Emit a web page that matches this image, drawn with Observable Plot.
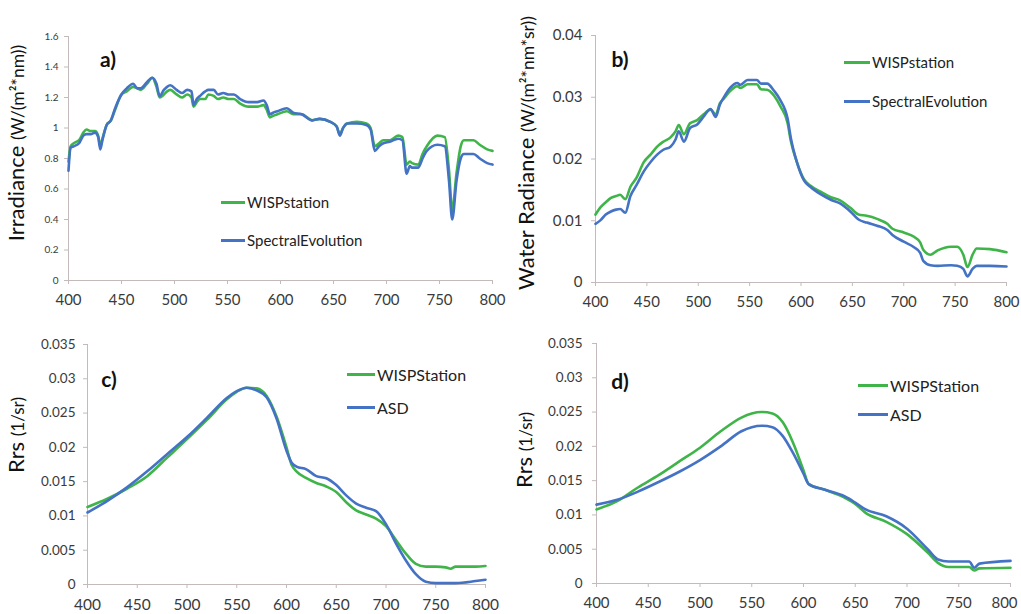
<!DOCTYPE html>
<html><head><meta charset="utf-8">
<script src="https://cdn.jsdelivr.net/npm/d3@7"></script>
<script src="https://cdn.jsdelivr.net/npm/@observablehq/plot@0.6"></script>
<style>
body{margin:0;background:#fff;font-family:Lato,"Open Sans",sans-serif;}
#wrap{position:relative;width:1021px;height:614px;overflow:hidden;background:#fff;}
.panel{position:absolute;}
.panel svg{overflow:visible;}
.leg{position:absolute;display:flex;align-items:center;color:#222;white-space:nowrap;}
.leg span.sw{display:inline-block;height:3px;margin-right:2px;}
</style></head><body><div id="wrap"></div>
<script>
// ---------- data ----------
const xTicks = [400, 450, 500, 550, 600, 650, 700, 750, 800];

// a) Irradiance
const aWl = [400,402,405,410,414,417,421,425,428,430,432,436,440,444,450,455,461,465,468,474,479,483,486,490,493,496,502,507,512,516,518,521,524,529,532,537,541,546,551,556,562,570,578,584,587,590,593,597,606,612,620,630,637,647,653,656,659,663,672,681,685,689,693,697,703,711,715,719,722,724,730,734,738,748,755,759,762,766,770,773,782,788,795,800];
const aWisp = [0.78,0.88,0.9,0.92,0.97,0.99,0.98,0.98,0.95,0.88,0.93,1.02,1.05,1.12,1.22,1.24,1.27,1.26,1.25,1.29,1.33,1.27,1.2,1.22,1.24,1.25,1.22,1.2,1.22,1.2,1.14,1.17,1.19,1.19,1.22,1.21,1.19,1.2,1.19,1.19,1.16,1.14,1.14,1.15,1.12,1.07,1.08,1.09,1.11,1.09,1.09,1.05,1.06,1.04,1.01,0.96,1.0,1.03,1.04,1.03,1.0,0.88,0.9,0.92,0.92,0.95,0.94,0.76,0.78,0.77,0.76,0.83,0.88,0.95,0.94,0.72,0.46,0.7,0.88,0.92,0.92,0.89,0.86,0.85];
const aSpec = [0.72,0.87,0.88,0.9,0.95,0.96,0.96,0.97,0.94,0.86,0.92,1.02,1.05,1.13,1.22,1.26,1.29,1.26,1.26,1.3,1.33,1.29,1.21,1.25,1.27,1.28,1.25,1.23,1.25,1.24,1.15,1.19,1.21,1.24,1.25,1.25,1.22,1.23,1.22,1.22,1.19,1.17,1.17,1.18,1.15,1.09,1.1,1.11,1.13,1.1,1.09,1.05,1.06,1.04,1.01,0.95,1.0,1.03,1.03,1.02,0.99,0.85,0.88,0.9,0.91,0.93,0.92,0.7,0.75,0.74,0.74,0.8,0.85,0.89,0.88,0.65,0.4,0.65,0.8,0.83,0.83,0.8,0.77,0.76];
const aTicks = [0,0.2,0.4,0.6,0.8,1,1.2,1.4,1.6];

// b) Water radiance
const bWl = [400,405,410,415,420,424,429,434,440,447,454,460,466,473,478,481,486,492,499,505,512,517,521,525,531,538,541,548,557,561,567,574,580,587,590,596,603,609,619,629,638,648,656,664,674,684,689,700,710,716,719,726,733,746,752,758,762,767,771,784,800];
const bWisp = [0.011,0.0122,0.013,0.0137,0.014,0.0142,0.0135,0.0155,0.017,0.0195,0.0208,0.022,0.0228,0.0235,0.0245,0.0255,0.024,0.0258,0.0263,0.0272,0.028,0.0272,0.029,0.0298,0.031,0.0318,0.0315,0.0321,0.0321,0.0313,0.0312,0.0302,0.0285,0.0258,0.023,0.0195,0.0167,0.0157,0.0147,0.0138,0.0133,0.0121,0.011,0.0108,0.0103,0.0095,0.0087,0.0081,0.0074,0.0065,0.0053,0.0045,0.0052,0.0058,0.0058,0.0045,0.0025,0.0045,0.0055,0.0054,0.0049];
const bSpec = [0.0095,0.0101,0.011,0.0115,0.0118,0.0119,0.0113,0.014,0.0158,0.018,0.0196,0.0207,0.0215,0.022,0.0232,0.0245,0.0228,0.025,0.0256,0.0268,0.0281,0.0268,0.0288,0.03,0.0315,0.0323,0.032,0.0328,0.0328,0.0322,0.0322,0.031,0.0295,0.0265,0.0235,0.0195,0.0165,0.0155,0.0143,0.0134,0.0128,0.0115,0.0102,0.0097,0.0092,0.0085,0.0077,0.0066,0.0057,0.0048,0.0035,0.0028,0.0027,0.0028,0.0027,0.0022,0.001,0.0022,0.0027,0.0027,0.0026];
const bTicks = [0,0.01,0.02,0.03,0.04];

// c) Rrs
const cWl = [400,420,440,460,480,500,520,540,550,560,570,580,590,600,605,610,620,630,640,650,660,670,680,690,700,710,720,730,740,750,760,765,770,790,800];
const cWisp = [0.0113,0.0125,0.014,0.0158,0.0185,0.0212,0.024,0.027,0.0281,0.0287,0.0286,0.0275,0.0245,0.02,0.0175,0.0165,0.0155,0.0148,0.0143,0.0135,0.012,0.0108,0.0102,0.0096,0.0085,0.0065,0.0045,0.003,0.0026,0.0026,0.0025,0.0023,0.0026,0.0026,0.0027];
const cAsd = [0.0105,0.0122,0.0142,0.0165,0.019,0.0215,0.0243,0.0272,0.0282,0.0287,0.0283,0.0273,0.0242,0.0195,0.0178,0.0172,0.0168,0.0158,0.0155,0.0145,0.013,0.0118,0.0112,0.0107,0.0088,0.006,0.0035,0.0015,0.0004,0.0002,0.0002,0.0002,0.0002,0.0005,0.0007];

// d) Rrs
const dWl = [400,420,440,460,480,500,520,540,550,560,570,580,590,600,605,620,640,650,660,680,700,720,730,740,760,765,770,800];
const dWisp = [0.0108,0.012,0.014,0.0158,0.0178,0.0198,0.0222,0.0242,0.0248,0.025,0.0248,0.0235,0.0205,0.0165,0.0145,0.0137,0.0125,0.0116,0.0103,0.009,0.0072,0.0045,0.003,0.0024,0.0024,0.0019,0.0022,0.0023];
const dAsd = [0.0115,0.0122,0.0134,0.0148,0.0163,0.018,0.02,0.0222,0.0228,0.023,0.0228,0.0215,0.019,0.016,0.0145,0.0137,0.0127,0.0118,0.0108,0.0098,0.008,0.005,0.0035,0.0032,0.0032,0.0023,0.0029,0.0033];
const rrsTicks = [0,0.005,0.01,0.015,0.02,0.025,0.03,0.035];

// ---------- drawing ----------
const GREEN = "#3fb449", BLUE = "#4472c4", AXIS = "#c4baba", TXT = "#3a3a3a";
const FONT = "Lato, 'Open Sans', sans-serif";
const fmt = d => String(+d.toFixed(4));
const wrap = document.getElementById("wrap");

function panel(p) {
  const data = [];
  p.wl.forEach((w, i) => data.push({wl: w, v: p.g[i], s: p.names[0]}));
  p.wl.forEach((w, i) => data.push({wl: w, v: p.b[i], s: p.names[1]}));
  const last = xTicks[xTicks.length - 1];
  const chart = Plot.plot({
    width: p.w, height: p.h,
    marginLeft: p.ml, marginRight: p.mr, marginTop: p.mt, marginBottom: p.mb,
    x: {domain: [400, 800]},
    y: {domain: [0, p.ymax]},
    color: {domain: p.names, range: [GREEN, BLUE]},
    style: {fontFamily: FONT, background: "transparent", overflow: "visible"},
    marks: [
      Plot.ruleY([0], {stroke: AXIS}),
      Plot.ruleX([400], {stroke: AXIS}),
      Plot.axisX({ticks: xTicks, tickSize: 4, tickPadding: p.xpad, fontSize: p.xfs, stroke: AXIS, fill: TXT, label: null,
        tickFormat: d => (p.lastDx && d === last) ? "" : String(d)}),
      p.lastDx ? Plot.axisX({ticks: [last], tickSize: 0, tickPadding: p.xpad + 4, dx: p.lastDx, fontSize: p.xfs, fill: TXT, label: null, tickFormat: d => String(d)}) : null,
      Plot.axisY({ticks: p.yTicks, tickSize: 4, tickPadding: p.ypad, fontSize: p.yfs, stroke: AXIS, fill: TXT, label: null, tickFormat: fmt}),
      Plot.line(data, {x: "wl", y: "v", z: "s", stroke: "s", strokeWidth: 2.6, curve: "monotone-x"})
    ]
  });
  const div = document.createElement("div");
  div.className = "panel";
  div.style.left = p.left + "px"; div.style.top = p.top + "px";
  div.style.width = p.w + "px"; div.style.height = p.h + "px";
  div.appendChild(chart);
  wrap.appendChild(div);

  const svg = d3.select(chart);
  // y-axis title
  const t = svg.append("text")
    .attr("transform", `translate(${p.tx},${p.ty}) rotate(-90)`)
    .attr("text-anchor", "middle").attr("dy", "0.35em")
    .attr("fill", "#111").style("font-family", FONT);
  t.append("tspan").attr("font-size", p.tfs).text(p.title[0]);
  t.append("tspan").attr("font-size", p.ufs).text(p.title[1]);
  // panel letter
  svg.append("text").attr("x", p.lx).attr("y", p.ly).attr("dy", "0.35em")
    .attr("font-size", 21).attr("font-weight", "bold").attr("fill", "#111")
    .style("font-family", FONT).text(p.letter);

  // legend
  p.names.forEach((n, i) => {
    const l = document.createElement("div");
    l.className = "leg";
    l.style.left = p.legX + "px";
    l.style.top = (p.legY[i] - 10) + "px";
    l.style.height = "20px";
    l.style.fontSize = p.legFs + "px";
    l.style.fontFamily = FONT;
    const sw = document.createElement("span");
    sw.className = "sw"; sw.style.width = p.legW + "px";
    sw.style.background = i === 0 ? GREEN : BLUE;
    l.appendChild(sw);
    l.appendChild(document.createTextNode(n));
    div.appendChild(l);
  });
}

panel({left: 0, top: 0, w: 510, h: 315, ml: 68, mr: 18, mt: 36, mb: 35,
  ymax: 1.6, yTicks: aTicks, wl: aWl, g: aWisp, b: aSpec,
  names: ["WISPstation", "SpectralEvolution"],
  xpad: 10, xfs: 15, ypad: 6, yfs: 10,
  title: ["Irradiance ", "(W/(m²*nm))"], tfs: 22, ufs: 17.5, tx: 20, ty: 143,
  letter: "a)", lx: 108, ly: 60,
  legX: 221, legY: [202, 240], legW: 24, legFs: 15});

panel({left: 510, top: 0, w: 511, h: 315, ml: 85, mr: 15, mt: 35, mb: 33,
  ymax: 0.04, yTicks: bTicks, wl: bWl, g: bWisp, b: bSpec,
  names: ["WISPstation", "SpectralEvolution"],
  xpad: 10, xfs: 15, ypad: 9, yfs: 15,
  title: ["Water Radiance ", "(W/(m²*nm*sr))"], tfs: 22, ufs: 17.5, tx: 20, ty: 153,
  letter: "b)", lx: 110, ly: 60,
  legX: 334, legY: [62, 101], legW: 26, legFs: 15});

panel({left: 0, top: 300, w: 510, h: 314, ml: 87, mr: 25, mt: 44, mb: 30,
  ymax: 0.035, yTicks: rrsTicks, wl: cWl, g: cWisp, b: cAsd,
  names: ["WISPStation", "ASD"],
  xpad: 10, xfs: 15.5, ypad: 8, yfs: 13.5,
  title: ["Rrs ", "(1/sr)"], tfs: 22, ufs: 17, tx: 20, ty: 135,
  letter: "c)", lx: 109, ly: 80,
  legX: 347, legY: [74, 107], legW: 28, legFs: 16});

panel({left: 510, top: 300, w: 511, h: 314, ml: 86, mr: 11, mt: 43, mb: 31,
  ymax: 0.035, yTicks: rrsTicks, wl: dWl, g: dWisp, b: dAsd,
  names: ["WISPStation", "ASD"],
  xpad: 10, xfs: 15, ypad: 10, yfs: 13.5, lastDx: -6,
  title: ["Rrs ", "(1/sr)"], tfs: 22, ufs: 17, tx: 18, ty: 150,
  letter: "d)", lx: 110, ly: 82,
  legX: 348, legY: [85, 114], legW: 30, legFs: 16});
</script>
</body></html>
